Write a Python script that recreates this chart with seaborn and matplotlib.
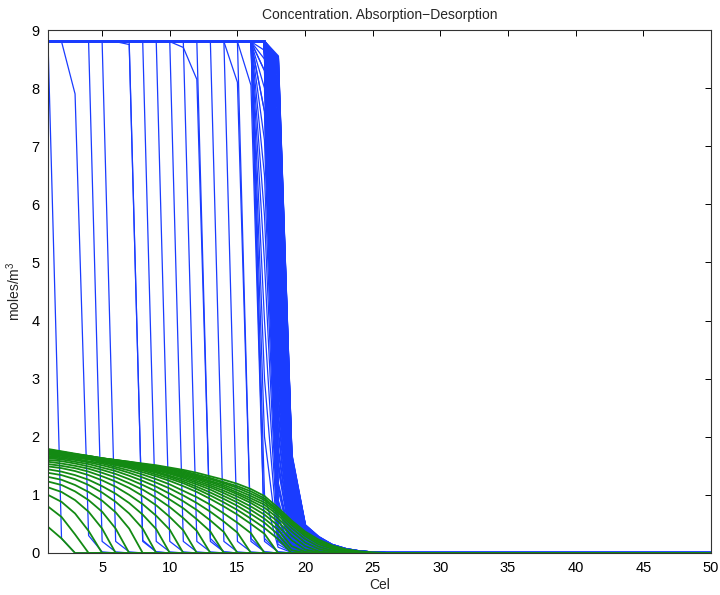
import matplotlib
matplotlib.use("Agg")
import matplotlib.pyplot as plt
import pandas as pd
import seaborn as sns

# ---------------- data ----------------
cells = list(range(1, 51))
plateau = 8.8  # saturated concentration (moles/m3)

# Absorption (blue): number of saturated cells and values that follow
blue_full = [1, 2, 4, 5, 6, 7, 8, 9, 10, 10, 11, 12, 13, 14, 14, 15, 15, 16, 16, 16]
blue_tail = [
    [0.25, 0.0],
    [7.9, 0.3, 0.02],
    [0.2, 0.02],
    [0.2, 0.02],
    [8.75, 0.22, 0.02],
    [0.2, 0.02],
    [0.2, 0.02],
    [0.2, 0.02],
    [0.2, 0.02],
    [8.7, 8.15, 0.25, 0.02],
    [0.2, 0.02],
    [0.2, 0.02],
    [0.2, 0.02],
    [0.2, 0.02],
    [8.1, 0.25, 0.02],
    [0.2, 0.02],
    [8.05, 0.25, 0.02],
    [0.2, 0.02],
    [8.3, 0.3, 0.03],
    [7.6, 0.25, 0.02],
]
# front slowing at cell 17: 16 saturated cells, values in cells 17..20
slow_full = 16
slow_tail = [
    [1.0, 0.1, 0.01],
    [2.0, 0.15, 0.02],
    [3.0, 0.2, 0.02],
    [4.0, 0.25, 0.03],
    [5.0, 0.3, 0.03],
    [5.8, 0.35, 0.04],
    [6.5, 0.4, 0.05],
    [7.1, 0.45, 0.05],
    [7.6, 0.5, 0.06],
    [8.0, 0.6, 0.07],
    [8.3, 0.8, 0.08],
    [8.5, 1.1, 0.1],
    [8.65, 1.6, 0.15, 0.02],
]
# stalled front: 17 saturated cells, values in cells 18..25
band_full = 17
band_tail = [
    [0.25, 0.02],
    [0.6, 0.08, 0.01],
    [0.9, 0.12, 0.02],
    [1.2, 0.15, 0.03],
    [1.5, 0.18, 0.04],
    [1.8, 0.22, 0.05, 0.01],
    [2.1, 0.26, 0.06, 0.01],
    [2.4, 0.30, 0.07, 0.02],
    [2.7, 0.34, 0.08, 0.02],
    [3.0, 0.38, 0.09, 0.03, 0.01],
    [3.3, 0.42, 0.10, 0.03, 0.01],
    [3.6, 0.46, 0.12, 0.04, 0.01],
    [3.85, 0.50, 0.13, 0.04, 0.01],
    [4.1, 0.55, 0.14, 0.05, 0.02],
    [4.35, 0.60, 0.15, 0.05, 0.02],
    [4.6, 0.64, 0.17, 0.06, 0.02],
    [4.85, 0.68, 0.18, 0.06, 0.02],
    [5.1, 0.73, 0.19, 0.07, 0.03, 0.01],
    [5.3, 0.78, 0.21, 0.08, 0.03, 0.01],
    [5.5, 0.82, 0.22, 0.09, 0.03, 0.01],
    [5.7, 0.86, 0.23, 0.09, 0.04, 0.01],
    [5.9, 0.90, 0.24, 0.10, 0.04, 0.01],
    [6.1, 0.94, 0.26, 0.11, 0.04, 0.01],
    [6.3, 0.98, 0.27, 0.12, 0.05, 0.02],
    [6.45, 1.02, 0.28, 0.12, 0.05, 0.02],
    [6.6, 1.06, 0.29, 0.13, 0.06, 0.02, 0.01],
    [6.75, 1.10, 0.30, 0.14, 0.06, 0.02, 0.01],
    [6.9, 1.13, 0.32, 0.15, 0.07, 0.03, 0.01],
    [7.05, 1.17, 0.33, 0.15, 0.07, 0.03, 0.01],
    [7.2, 1.20, 0.34, 0.16, 0.08, 0.03, 0.01],
    [7.35, 1.24, 0.35, 0.17, 0.08, 0.03, 0.01],
    [7.45, 1.27, 0.36, 0.18, 0.09, 0.04, 0.01],
    [7.6, 1.31, 0.37, 0.18, 0.09, 0.04, 0.01],
    [7.7, 1.34, 0.38, 0.19, 0.10, 0.04, 0.02],
    [7.8, 1.37, 0.39, 0.20, 0.10, 0.04, 0.02],
    [7.9, 1.40, 0.40, 0.21, 0.11, 0.05, 0.02, 0.01],
    [7.98, 1.43, 0.41, 0.21, 0.11, 0.05, 0.02, 0.01],
    [8.05, 1.46, 0.42, 0.22, 0.12, 0.05, 0.02, 0.01],
    [8.12, 1.49, 0.43, 0.23, 0.12, 0.05, 0.02, 0.01],
    [8.2, 1.51, 0.44, 0.24, 0.12, 0.06, 0.02, 0.01],
    [8.25, 1.54, 0.44, 0.24, 0.13, 0.06, 0.03, 0.01],
    [8.3, 1.56, 0.45, 0.25, 0.13, 0.06, 0.03, 0.01],
    [8.35, 1.59, 0.45, 0.25, 0.13, 0.06, 0.03, 0.01],
    [8.4, 1.61, 0.46, 0.26, 0.13, 0.06, 0.03, 0.01],
    [8.44, 1.63, 0.46, 0.26, 0.14, 0.07, 0.03, 0.01],
    [8.47, 1.65, 0.47, 0.27, 0.14, 0.07, 0.03, 0.01],
    [8.5, 1.67, 0.47, 0.27, 0.14, 0.07, 0.03, 0.01],
    [8.52, 1.68, 0.48, 0.27, 0.14, 0.07, 0.03, 0.01],
    [8.55, 1.70, 0.48, 0.28, 0.14, 0.07, 0.03, 0.01],
]

# Desorption (green): profiles starting at cell 1
green_profiles = [
    [0.45, 0.25, 0.0],
    [0.80, 0.62, 0.32, 0.0],
    [1.00, 0.88, 0.68, 0.38, 0.0],
    [1.13, 1.05, 0.91, 0.71, 0.42, 0.0],
    [1.23, 1.17, 1.06, 0.91, 0.71, 0.42, 0.0],
    [1.31, 1.26, 1.17, 1.05, 0.90, 0.70, 0.42, 0.0],
    [1.38, 1.34, 1.27, 1.17, 1.04, 0.88, 0.68, 0.42, 0.0],
    [1.44, 1.40, 1.34, 1.26, 1.15, 1.02, 0.86, 0.66, 0.41, 0.0],
    [1.49, 1.46, 1.41, 1.34, 1.25, 1.14, 1.00, 0.84, 0.64, 0.40, 0.0],
    [1.53, 1.50, 1.46, 1.40, 1.32, 1.23, 1.12, 0.98, 0.82, 0.62, 0.39, 0.0],
    [1.57, 1.54, 1.50, 1.45, 1.38, 1.30, 1.20, 1.09, 0.95, 0.79, 0.60, 0.38, 0.0],
    [1.60, 1.58, 1.54, 1.49, 1.43, 1.36, 1.27, 1.17, 1.06, 0.92, 0.77, 0.58, 0.37, 0.0],
    [1.63, 1.61, 1.57, 1.53, 1.47, 1.41, 1.33, 1.24, 1.14, 1.02, 0.89, 0.74, 0.56, 0.36, 0.0],
    [1.65, 1.63, 1.60, 1.56, 1.51, 1.45, 1.38, 1.30, 1.21, 1.11, 0.99, 0.86, 0.71, 0.54, 0.35, 0.0],
    [1.67, 1.65, 1.62, 1.58, 1.54, 1.48, 1.42, 1.35, 1.27, 1.18, 1.07, 0.96, 0.83, 0.68, 0.52, 0.34, 0.0],
    [1.69, 1.67, 1.64, 1.61, 1.56, 1.51, 1.46, 1.39, 1.32, 1.24, 1.15, 1.05, 0.93, 0.80, 0.66, 0.50, 0.33, 0.0],
    [1.70, 1.68, 1.65, 1.62, 1.58, 1.53, 1.48, 1.42, 1.35, 1.28, 1.20, 1.10, 0.99, 0.87, 0.74, 0.59, 0.43, 0.24, 0.0],
    [1.71, 1.69, 1.66, 1.63, 1.59, 1.54, 1.49, 1.44, 1.38, 1.31, 1.23, 1.14, 1.04, 0.93, 0.81, 0.67, 0.52, 0.32, 0.05, 0.0],
    [1.72, 1.70, 1.67, 1.64, 1.60, 1.55, 1.51, 1.46, 1.40, 1.33, 1.26, 1.18, 1.09, 0.98, 0.87, 0.74, 0.59, 0.40, 0.12, 0.02, 0.0],
    [1.73, 1.71, 1.68, 1.65, 1.61, 1.57, 1.52, 1.47, 1.42, 1.36, 1.29, 1.21, 1.13, 1.03, 0.92, 0.80, 0.66, 0.47, 0.22, 0.06, 0.01, 0.0],
    [1.74, 1.71, 1.68, 1.65, 1.61, 1.58, 1.53, 1.49, 1.44, 1.38, 1.31, 1.24, 1.16, 1.07, 0.97, 0.86, 0.72, 0.54, 0.30, 0.12, 0.03, 0.0],
    [1.75, 1.72, 1.69, 1.66, 1.62, 1.58, 1.54, 1.50, 1.45, 1.39, 1.33, 1.27, 1.19, 1.11, 1.01, 0.90, 0.78, 0.60, 0.37, 0.18, 0.07, 0.02, 0.0],
    [1.76, 1.73, 1.69, 1.66, 1.62, 1.59, 1.55, 1.51, 1.47, 1.41, 1.35, 1.29, 1.22, 1.14, 1.04, 0.94, 0.83, 0.65, 0.43, 0.24, 0.11, 0.04, 0.01, 0.0],
    [1.76, 1.73, 1.70, 1.66, 1.63, 1.59, 1.56, 1.52, 1.48, 1.43, 1.37, 1.31, 1.24, 1.17, 1.08, 0.98, 0.87, 0.69, 0.48, 0.29, 0.15, 0.07, 0.03, 0.01, 0.0],
    [1.77, 1.74, 1.70, 1.67, 1.63, 1.60, 1.56, 1.53, 1.49, 1.44, 1.39, 1.33, 1.27, 1.20, 1.12, 1.02, 0.91, 0.72, 0.51, 0.32, 0.18, 0.09, 0.04, 0.015, 0.0],
    [1.78, 1.74, 1.70, 1.67, 1.63, 1.60, 1.57, 1.53, 1.50, 1.45, 1.41, 1.35, 1.29, 1.22, 1.15, 1.06, 0.94, 0.74, 0.53, 0.34, 0.20, 0.11, 0.05, 0.02, 0.005, 0.0],
    [1.79, 1.75, 1.71, 1.67, 1.63, 1.60, 1.57, 1.54, 1.51, 1.47, 1.43, 1.38, 1.32, 1.26, 1.19, 1.10, 0.98, 0.78, 0.56, 0.37, 0.23, 0.13, 0.065, 0.03, 0.01, 0.0],
]

x_ticks = [5, 10, 15, 20, 25, 30, 35, 40, 45, 50]
y_ticks = [0, 1, 2, 3, 4, 5, 6, 7, 8, 9]
title = "Concentration. Absorption\u2212Desorption"

# ---------------- build long tables ----------------
def pad(p):
    return list(p) + [0.0] * (len(cells) - len(p))

def long_table(profiles):
    rows = []
    for k, p in enumerate(profiles):
        for c, v in zip(cells, pad(p)):
            rows.append({"curve": k, "cel": c, "conc": v})
    return pd.DataFrame(rows)

df_blue = long_table([[plateau] * n + t for n, t in zip(blue_full, blue_tail)]
                     + [[plateau] * slow_full + t for t in slow_tail])
df_band = long_table([[plateau] * band_full + t for t in band_tail])
df_green = long_table(green_profiles)

# ---------------- plot ----------------
sns.set_style("white")
plt.rcParams["font.family"] = ["Liberation Sans", "DejaVu Sans"]
plt.rcParams["mathtext.fontset"] = "custom"
plt.rcParams["mathtext.rm"] = "Liberation Sans"

fig = plt.figure(figsize=(7.2, 5.95), dpi=100)
ax = fig.add_axes([48 / 720, 1 - 553 / 595, (711 - 48) / 720, (553 - 30) / 595])

blue = "#1a3cff"
sns.lineplot(data=df_blue, x="cel", y="conc", units="curve", estimator=None,
             color=blue, linewidth=0.9, ax=ax, legend=False, sort=False)
sns.lineplot(data=df_band, x="cel", y="conc", units="curve", estimator=None,
             color=blue, linewidth=1.5, ax=ax, legend=False, sort=False)
sns.lineplot(data=df_green, x="cel", y="conc", units="curve", estimator=None,
             color="#138a13", linewidth=1.3, ax=ax, legend=False, sort=False)

ax.set_xlim(1, 50)
ax.set_ylim(0, 9)
ax.set_xticks(x_ticks)
ax.set_yticks(y_ticks)
ax.tick_params(direction="in", top=True, right=True, length=4.5, width=0.7,
               labelsize=10.5, colors="black", pad=6)
for s in ax.spines.values():
    s.set_visible(True)
    s.set_linewidth(0.8)
    s.set_color("#333333")

ax.set_title(title, fontsize=10, pad=8)
ax.set_xlabel("Cel", fontsize=10, labelpad=2)
ax.set_ylabel("moles/m$^3$", fontsize=10, labelpad=6)

fig.savefig("out.png", dpi=100)
